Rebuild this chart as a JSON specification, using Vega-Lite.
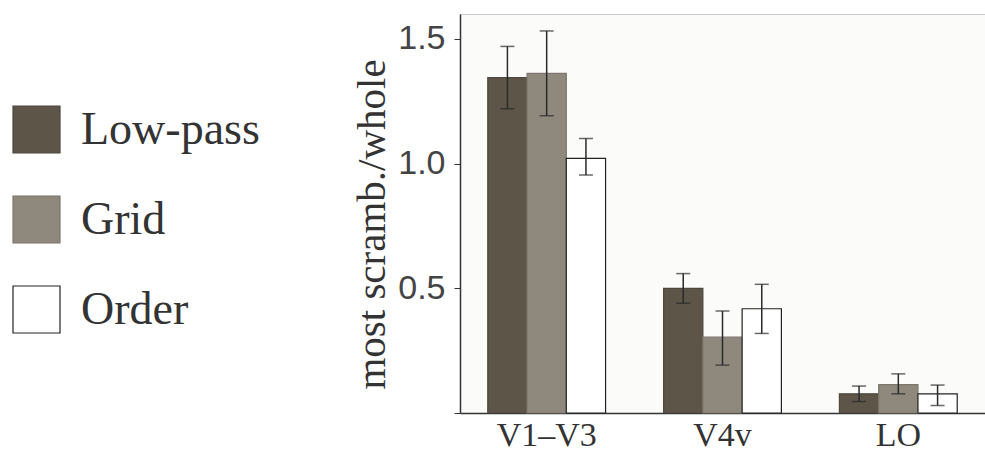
{
  "$schema": "https://vega.github.io/schema/vega-lite/v6.json",
  "autosize": {"type": "none"},
  "padding": {"left": 460, "top": 14, "right": 0, "bottom": 38},
  "width": 525,
  "height": 399,
  "background": "white",
  "config": {
    "view": {"stroke": "#9a9a9a", "strokeDash": [1, 1], "fill": "#fbfbfa"},
    "axis": {"domainColor": "#333", "domainWidth": 1.5, "tickColor": "#333", "grid": false}
  },
  "data": {
    "values": [
      {"region": "V1–V3", "condition": "Low-pass", "value": 1.345, "lo": 1.22, "hi": 1.47},
      {"region": "V1–V3", "condition": "Grid", "value": 1.362, "lo": 1.192, "hi": 1.532},
      {"region": "V1–V3", "condition": "Order", "value": 1.021, "lo": 0.954, "hi": 1.101},
      {"region": "V4v", "condition": "Low-pass", "value": 0.5, "lo": 0.44, "hi": 0.559},
      {"region": "V4v", "condition": "Grid", "value": 0.304, "lo": 0.192, "hi": 0.409},
      {"region": "V4v", "condition": "Order", "value": 0.418, "lo": 0.319, "hi": 0.516},
      {"region": "LO", "condition": "Low-pass", "value": 0.077, "lo": 0.046, "hi": 0.108},
      {"region": "LO", "condition": "Grid", "value": 0.114, "lo": 0.077, "hi": 0.157},
      {"region": "LO", "condition": "Order", "value": 0.077, "lo": 0.03, "hi": 0.112}
    ]
  },
  "encoding": {
    "x": {
      "field": "region", "type": "nominal", "sort": ["V1–V3", "V4v", "LO"],
      "scale": {"paddingInner": 0.33, "paddingOuter": 0.158},
      "axis": {"title": null, "labelAngle": 0, "ticks": false, "labelPadding": 5,
               "labelFont": "Liberation Serif", "labelFontSize": 34, "labelColor": "#333"}
    },
    "xOffset": {
      "field": "condition", "type": "nominal", "sort": ["Low-pass", "Grid", "Order"],
      "scale": {"paddingInner": 0, "paddingOuter": 0}
    }
  },
  "layer": [
    {
      "mark": {"type": "bar", "strokeWidth": 1.2},
      "encoding": {
        "y": {
          "field": "value", "type": "quantitative",
          "scale": {"domain": [0, 1.6], "nice": false},
          "axis": {
            "title": "most scramb./whole", "titleFont": "Liberation Serif", "titleFontSize": 41,
            "titleFontWeight": "normal", "titleColor": "#333", "titlePadding": 4, "titleY": 210,
            "values": [0, 0.5, 1, 1.5], "labelExpr": "datum.value == 0 ? '' : format(datum.value, '.1f')",
            "labelFont": "Liberation Sans", "labelFontSize": 34, "labelColor": "#444",
            "tickSize": 6, "labelPadding": 9
          }
        },
        "fill": {
          "field": "condition", "type": "nominal", "sort": ["Low-pass", "Grid", "Order"],
          "scale": {"domain": ["Low-pass", "Grid", "Order"], "range": ["#5c5548", "#8e887d", "#ffffff"]},
          "legend": {
            "title": null, "orient": "none", "legendX": -448, "legendY": 91,
            "symbolType": "square", "symbolSize": 2209, "symbolStrokeWidth": 1.2,
            "labelFont": "Liberation Serif", "labelFontSize": 46, "labelColor": "#333",
            "labelOffset": 20, "rowPadding": 37, "labelLimit": 400
          }
        },
        "stroke": {
          "field": "condition", "type": "nominal", "sort": ["Low-pass", "Grid", "Order"],
          "scale": {"domain": ["Low-pass", "Grid", "Order"], "range": ["#4d473c", "#7d776c", "#222222"]},
          "legend": null
        }
      }
    },
    {
      "mark": {"type": "rule", "color": "#2a2a2a", "strokeWidth": 1.5},
      "encoding": {
        "y": {"field": "lo", "type": "quantitative"},
        "y2": {"field": "hi"}
      }
    },
    {
      "mark": {"type": "tick", "color": "#2a2a2a", "thickness": 1.5, "size": 14, "orient": "horizontal"},
      "encoding": {"y": {"field": "hi", "type": "quantitative"}}
    },
    {
      "mark": {"type": "tick", "color": "#2a2a2a", "thickness": 1.5, "size": 14, "orient": "horizontal"},
      "encoding": {"y": {"field": "lo", "type": "quantitative"}}
    }
  ]
}
